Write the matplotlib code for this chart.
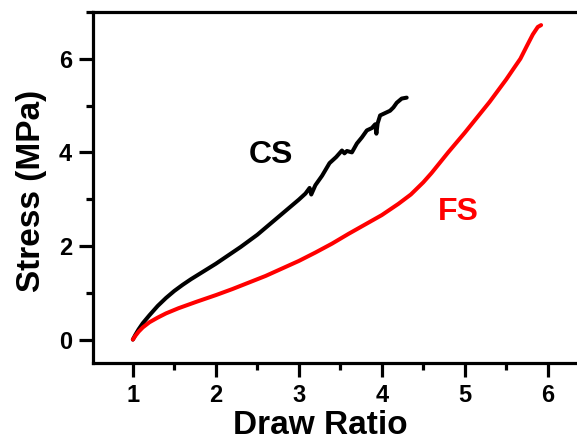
import matplotlib
matplotlib.use("Agg")
import matplotlib.pyplot as plt
from matplotlib.ticker import MultipleLocator

plt.rcParams['font.family'] = ['Liberation Sans', 'DejaVu Sans']
plt.rcParams['font.weight'] = 'bold'

# CS curve (black)
cs_x = [1.00, 1.03, 1.07, 1.12, 1.20, 1.30, 1.40, 1.50, 1.60, 1.70, 1.80, 1.90,
        2.00, 2.10, 2.20, 2.30, 2.40, 2.50, 2.60, 2.70, 2.80, 2.90, 3.00, 3.08,
        3.13, 3.15, 3.20, 3.28, 3.37, 3.45, 3.52, 3.55, 3.58, 3.64, 3.70, 3.76,
        3.82, 3.88, 3.92, 3.935, 3.95, 3.98, 4.04, 4.10, 4.14, 4.18, 4.24, 4.30]
cs_y = [0.00, 0.10, 0.22, 0.35, 0.52, 0.72, 0.89, 1.04, 1.17, 1.29, 1.40, 1.51,
        1.62, 1.74, 1.86, 1.98, 2.11, 2.24, 2.39, 2.54, 2.69, 2.84, 2.99, 3.12,
        3.24, 3.10, 3.30, 3.50, 3.77, 3.90, 4.04, 3.98, 4.03, 4.00, 4.19, 4.32,
        4.47, 4.52, 4.60, 4.40, 4.62, 4.79, 4.84, 4.89, 4.96, 5.06, 5.15, 5.17]

# FS curve (red)
fs_x = [1.00, 1.03, 1.07, 1.12, 1.20, 1.30, 1.40, 1.55, 1.77, 2.00, 2.20, 2.40,
        2.60, 2.80, 3.00, 3.20, 3.40, 3.60, 3.80, 4.00, 4.20, 4.35, 4.50, 4.60,
        4.70, 4.80, 4.90, 5.00, 5.10, 5.20, 5.30, 5.40, 5.50, 5.60, 5.67, 5.75,
        5.82, 5.88, 5.92]
fs_y = [0.00, 0.08, 0.17, 0.26, 0.37, 0.47, 0.56, 0.67, 0.81, 0.95, 1.08, 1.22,
        1.36, 1.52, 1.68, 1.86, 2.05, 2.26, 2.46, 2.66, 2.90, 3.10, 3.36, 3.56,
        3.78, 4.00, 4.21, 4.42, 4.64, 4.86, 5.08, 5.32, 5.56, 5.82, 6.00, 6.28,
        6.52, 6.68, 6.72]

x_ticks = [1, 2, 3, 4, 5, 6]
y_ticks = [0, 2, 4, 6]

fig = plt.figure(figsize=(5.77, 4.41), dpi=100)
ax = fig.add_axes([0.1612, 0.1769, 0.86, 0.7959])

ax.plot(cs_x, cs_y, color='black', lw=2.9, solid_capstyle='round', solid_joinstyle='round')
ax.plot(fs_x, fs_y, color='#ff0000', lw=2.9, solid_capstyle='round', solid_joinstyle='round')

ax.set_xlim(0.52, 6.5)
ax.set_ylim(-0.5, 7.0)
ax.set_xticks(x_ticks)
ax.set_yticks(y_ticks)
ax.xaxis.set_minor_locator(MultipleLocator(0.5))
ax.yaxis.set_minor_locator(MultipleLocator(1))

for s in ax.spines.values():
    s.set_linewidth(2.3)

ax.tick_params(which='major', direction='out', length=10, width=2.3,
               labelsize=17, pad=5)
ax.tick_params(which='minor', direction='out', length=5, width=2.3)
ax.tick_params(top=False, right=False, which='both')
for lab in ax.get_xticklabels() + ax.get_yticklabels():
    lab.set_fontweight('bold')

ax.set_xlabel('Draw Ratio', fontsize=24, fontweight='bold')
ax.set_ylabel('Stress (MPa)', fontsize=24, fontweight='bold')
ax.xaxis.set_label_coords((320 - 93) / (0.86 * 577), -0.135)
ax.yaxis.set_label_coords(-0.093, 0.49)

ax.text(2.66, 3.94, 'CS', color='black', fontsize=23, fontweight='bold',
        ha='center', va='center')
ax.text(4.92, 2.72, 'FS', color='#ff0000', fontsize=23, fontweight='bold',
        ha='center', va='center')

fig.savefig('out.png', dpi=100)
